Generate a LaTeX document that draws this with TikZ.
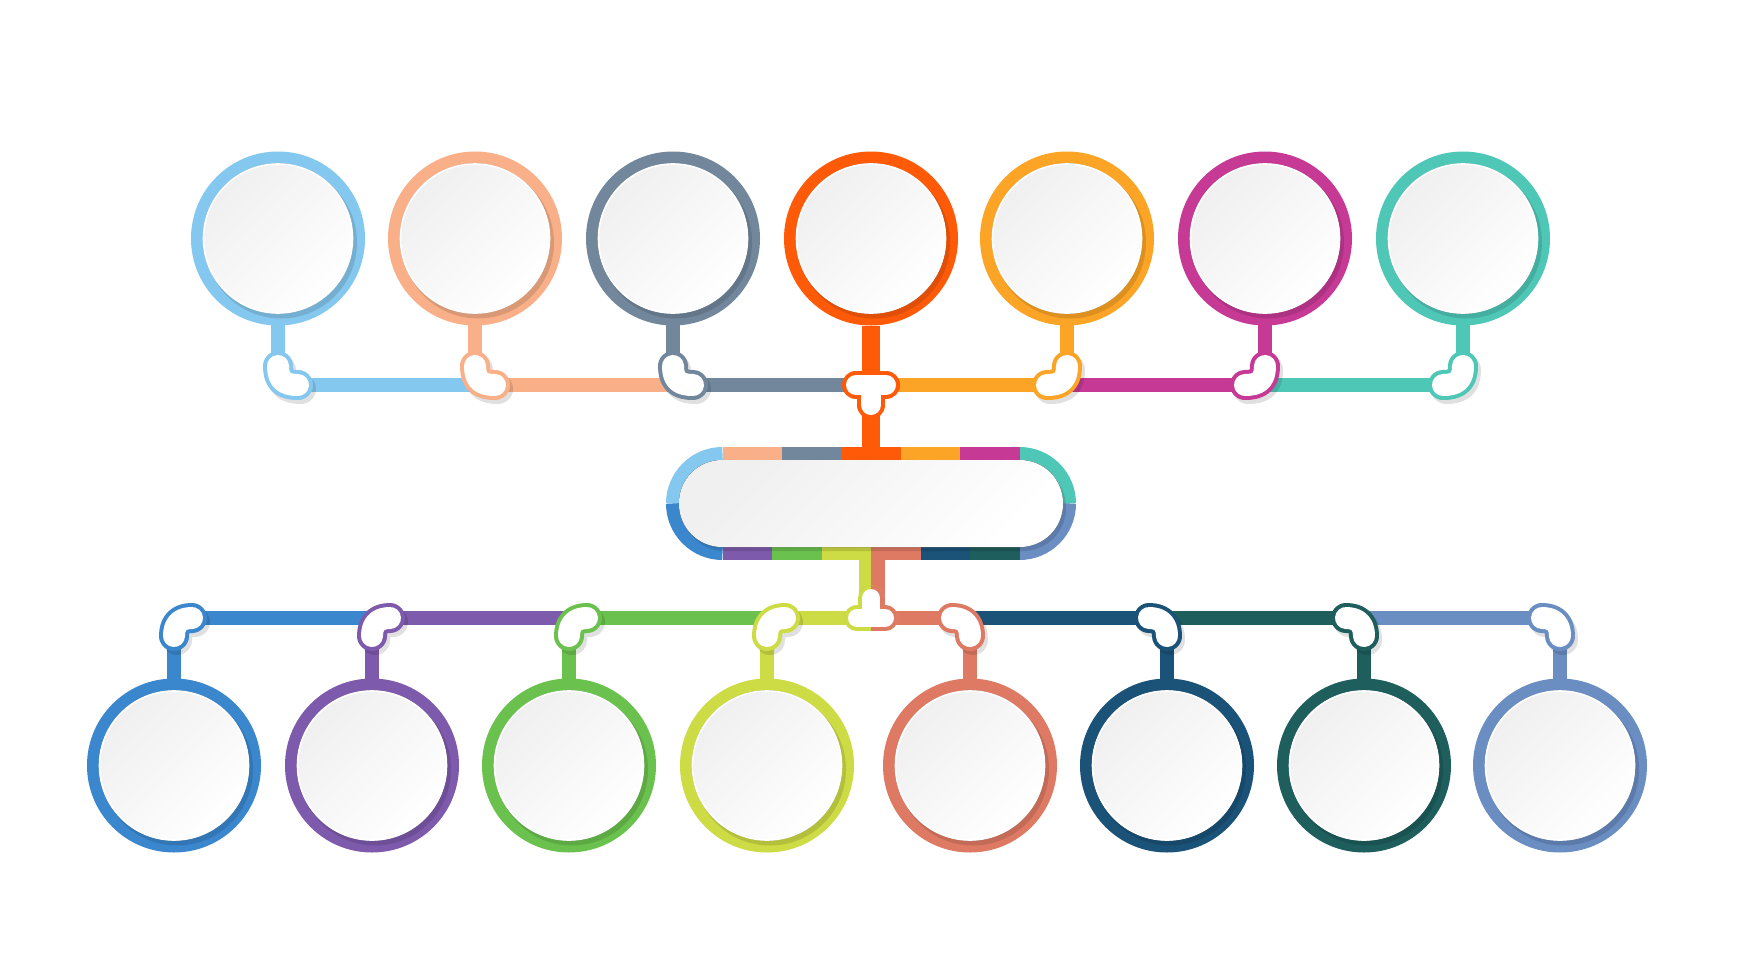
\documentclass[tikz,border=0pt]{standalone}
\usetikzlibrary{calc}

\definecolor{cLBlue}{HTML}{85C8EF}
\definecolor{cPeach}{HTML}{F9AF87}
\definecolor{cSlate}{HTML}{72879C}
\definecolor{cOrange}{HTML}{FE5A08}
\definecolor{cAmber}{HTML}{FCA425}
\definecolor{cMagenta}{HTML}{C63A96}
\definecolor{cTeal}{HTML}{4EC7B7}
\definecolor{cBlue}{HTML}{3A87CE}
\definecolor{cPurple}{HTML}{7E5AAC}
\definecolor{cGreen}{HTML}{6BC14E}
\definecolor{cLime}{HTML}{CDDB44}
\definecolor{cCoral}{HTML}{DE7A63}
\definecolor{cNavy}{HTML}{1B5278}
\definecolor{cPine}{HTML}{1E5E5D}
\definecolor{cSteel}{HTML}{6A8DC2}

\tikzset{
  ringnode/.style={circle, draw=#1, line width=6pt, fill=white, minimum size=81pt, inner sep=0pt},
  hubbox/.style={rectangle, minimum width=205pt, minimum height=56.5pt, inner sep=0pt, outer sep=0pt},
  diskfill/.style={top color=black!6, bottom color=white, shading angle=45},
  diskedge/.style={draw=white, line width=0.8pt},
  dropfill/.style={black, opacity=.12},
  stemline/.style={draw=#1, line width=7pt},
  linkbar/.style={draw=#1, line width=7pt},
  hubrim/.style={draw=#1, line width=6.5pt},
  beanrim/.style={draw=#1, line width=15pt, line cap=round, line join=round},
  beanfill/.style={draw=white, line width=11pt, line cap=round, line join=round}
}

\begin{document}
\begin{tikzpicture}[x=0.5pt, y=-0.5pt]
  \fill[white] (0,0) rectangle (1742,980);

  % Top circles
  \foreach \i/\x/\c in {1/278/cLBlue, 2/475/cPeach, 3/673/cSlate, 4/871/cOrange, 5/1067/cAmber, 6/1265/cMagenta, 7/1463/cTeal}
  {
    \coordinate (tj\i) at (\x,385);
    \ifnum\i=4 \else \draw[stemline=\c] (\x,300) -- (tj\i); \fi
    \node[ringnode=\c] (t\i) at (\x,238.5) {};
    \fill[dropfill] ([shift={(3,4)}]t\i.center) circle (76);
    \fill[diskfill] (t\i) circle (75);
    \draw[diskedge] (t\i) circle (74.5);
  }

  % Bottom circles
  \foreach \i/\x/\c in {1/174/cBlue, 2/372/cPurple, 3/569/cGreen, 4/767/cLime, 5/970/cCoral, 6/1167/cNavy, 7/1364/cPine, 8/1560/cSteel}
  {
    \coordinate (bj\i) at (\x,618);
    \draw[stemline=\c] (bj\i) -- (\x,700);
    \node[ringnode=\c] (b\i) at (\x,765.5) {};
    \fill[dropfill] ([shift={(3,4)}]b\i.center) circle (76);
    \fill[diskfill] (b\i) circle (75);
    \draw[diskedge] (b\i) circle (74.5);
  }

  % Hub
  \node[hubbox] (hub) at (871,503.5) {};
  \coordinate (bT) at (871,618);
  \draw[stemline=cOrange, line width=9pt] (t4.south) -- (hub.north);
  \draw[stemline=cLime, line width=6pt] ([xshift=-3pt]hub.south) -- ([xshift=-3pt]bT);
  \draw[stemline=cCoral] ([xshift=3.5pt]hub.south) -- ([xshift=3.5pt]bT);

  \draw[hubrim=cLBlue] (672.5,503.5) arc[start angle=180, end angle=270, radius=50];
  \draw[hubrim=cTeal] (1019.5,453.5) arc[start angle=270, end angle=360, radius=50];
  \draw[hubrim=cBlue] (672.5,503.5) arc[start angle=180, end angle=90, radius=50];
  \draw[hubrim=cSteel] (1019.5,553.5) arc[start angle=90, end angle=0, radius=50];
  \foreach \c [count=\k from 0] in {cPeach,cSlate,cOrange,cAmber,cMagenta}
    \draw[hubrim=\c] (722.5+59.4*\k,453.5) -- ++(59.5,0);
  \foreach \c [count=\k from 0] in {cPurple,cGreen,cLime,cCoral,cNavy,cPine}
    \draw[hubrim=\c] (722.5+49.5*\k,553.5) -- ++(49.6,0);
  \fill[dropfill, rounded corners=21.5pt] (682,464) rectangle (1066,551);
  \fill[diskfill, rounded corners=21.5pt] (679,460) rectangle (1063,547);

  % Lines
  \foreach \a/\b/\c in {tj1/tj2/cLBlue, tj2/tj3/cPeach, tj3/tj4/cSlate, tj4/tj5/cAmber, tj5/tj6/cMagenta, tj6/tj7/cTeal}
    \draw[linkbar=\c] (\a) -- (\b);
  \foreach \a/\b/\c in {bj1/bj2/cBlue, bj2/bj3/cPurple, bj3/bj4/cGreen, bj4/bT/cLime, bT/bj5/cCoral, bj5/bj6/cNavy, bj6/bj7/cPine, bj7/bj8/cSteel}
    \draw[linkbar=\c] (\a) -- (\b);

  % Top joints
  \foreach \x/\c/\s in {278/cLBlue/1, 475/cPeach/1, 673/cSlate/1, 1067/cAmber/-1, 1265/cMagenta/-1, 1463/cTeal/-1}
  {
    \draw[beanrim=black, opacity=.12, shift={(3,4)}] (\x,366) .. controls (\x,380) and (\x+6*\s,385) .. (\x+20*\s,385);
    \draw[beanrim=\c] (\x,366) .. controls (\x,380) and (\x+6*\s,385) .. (\x+20*\s,385);
    \draw[beanfill] (\x,366) .. controls (\x,380) and (\x+6*\s,385) .. (\x+20*\s,385);
  }
  \draw[beanrim=black, opacity=.12, line width=14pt, shift={(3,4)}] ([xshift=-7.5pt]tj4) -- ([xshift=7.5pt]tj4) (tj4) -- ([yshift=-10pt]tj4);
  \draw[beanrim=cOrange, line width=14pt] ([xshift=-7.5pt]tj4) -- ([xshift=7.5pt]tj4) (tj4) -- ([yshift=-10pt]tj4);
  \draw[beanfill, line width=10pt] ([xshift=-7.5pt]tj4) -- ([xshift=7.5pt]tj4) (tj4) -- ([yshift=-10pt]tj4);

  % Bottom joints
  \foreach \x/\c/\s in {174/cBlue/1, 372/cPurple/1, 569/cGreen/1, 767/cLime/1, 970/cCoral/-1, 1167/cNavy/-1, 1364/cPine/-1, 1560/cSteel/-1}
  {
    \draw[beanrim=black, opacity=.12, shift={(3,4)}] (\x,636) .. controls (\x,624) and (\x+6*\s,618) .. (\x+18*\s,618);
    \draw[beanrim=\c] (\x,636) .. controls (\x,624) and (\x+6*\s,618) .. (\x+18*\s,618);
    \draw[beanfill] (\x,636) .. controls (\x,624) and (\x+6*\s,618) .. (\x+18*\s,618);
  }
  \draw[beanrim=black, opacity=.12, line width=13pt, shift={(3,4)}] ([xshift=-7pt]bT) -- ([xshift=7pt]bT) (bT) -- ([yshift=10pt]bT);
  \draw[beanrim=cLime, line width=13pt] ([xshift=-7pt]bT) -- ([xshift=7pt]bT) (bT) -- ([yshift=10pt]bT);
  \begin{scope}
    \clip (871,570) rectangle (920,660);
    \draw[beanrim=cCoral, line width=13pt] ([xshift=-7pt]bT) -- ([xshift=7pt]bT) (bT) -- ([yshift=10pt]bT);
  \end{scope}
  \draw[beanfill, line width=9pt] ([xshift=-7pt]bT) -- ([xshift=7pt]bT) (bT) -- ([yshift=10pt]bT);
\end{tikzpicture}
\end{document}
